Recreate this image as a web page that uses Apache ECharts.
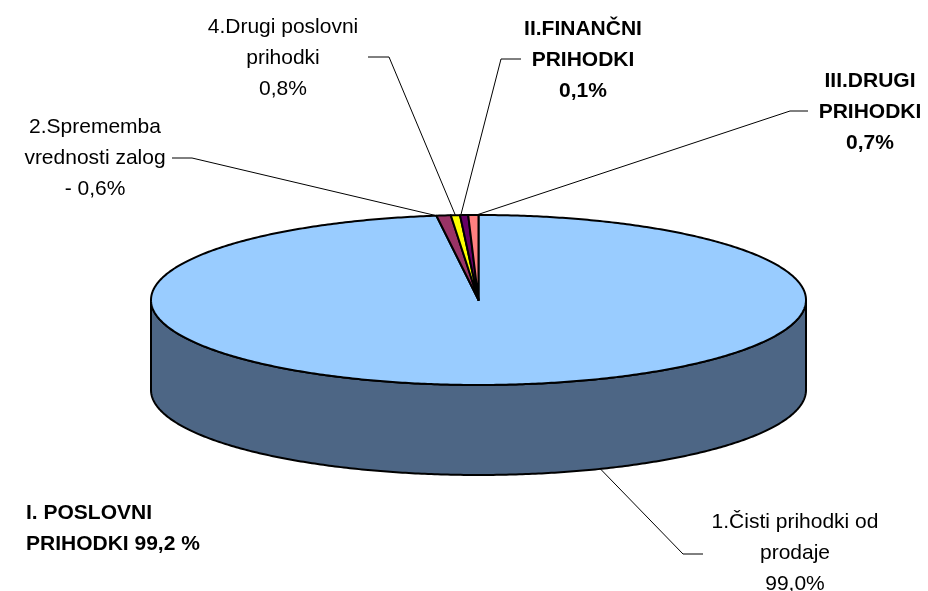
<!DOCTYPE html>
<html>
<head>
<meta charset="utf-8">
<style>html,body{margin:0;padding:0;background:#fff}#c{width:928px;height:591px}</style>
<script src="https://cdn.jsdelivr.net/npm/echarts@6/dist/echarts.min.js"></script>
</head>
<body>
<div id="c"></div>
<script>
// Slices clockwise from 12 o'clock (widths)
const sliceNames = ['1.Čisti prihodki od prodaje', '2.Sprememba vrednosti zalog', '4.Drugi poslovni prihodki', 'II.FINANČNI PRIHODKI', 'III.DRUGI PRIHODKI'];
const sliceValues = [98.0, 0.70, 0.45, 0.40, 0.50];
const sliceColors = ['#99CCFF', '#993366', '#FFFF00', '#660066', '#FF8080'];
const sideColors  = ['#4D6685', '#4D1A33', '#808000', '#330033', '#804040'];
const sliceLabels = [
  '1.Čisti prihodki od\nprodaje\n99,0%',
  '2.Sprememba\nvrednosti zalog\n- 0,6%',
  '4.Drugi poslovni\nprihodki\n0,8%',
  'II.FINANČNI\nPRIHODKI\n0,1%',
  'III.DRUGI\nPRIHODKI\n0,7%'
];
const extraLabel = 'I. POSLOVNI\nPRIHODKI 99,2 %';

// Layout
const cx = 478.5, cy = 300, rx = 327.5, ry = 85, depth = 90;
const total = sliceValues.reduce((a, b) => a + b, 0);
const fontFamily = '"Liberation Sans", Arial, sans-serif';
const fontSize = 21, lineHeight = 31;
// where each label sits, the elbow of its leader, the fraction along the slice's rim it touches
const labelLayout = [
  {x: 795, y: 553, bold: false, elbow: [[703, 554], [683, 554]], at: 0.4485, wall: true},
  {x: 95,  y: 158, bold: false, elbow: [[172, 158], [192, 158]], at: 0},
  {x: 283, y: 58,  bold: false, elbow: [[368, 57],  [389, 57]],  at: 0.5},
  {x: 583, y: 60,  bold: true,  elbow: [[521, 59],  [501, 59]],  at: 0.1},
  {x: 870, y: 112, bold: true,  elbow: [[808, 111], [790, 111]], at: 0.8}
];

function pt(t, dy) {
  return [cx + rx * Math.sin(t), cy - ry * Math.cos(t) + (dy || 0)];
}
function arc(a, b, dy) {
  const n = Math.max(2, Math.ceil((b - a) / 0.01));
  const out = [];
  for (let i = 0; i <= n; i++) out.push(pt(a + (b - a) * i / n, dy));
  return out;
}
function renderSlice(params, api) {
  const i = params.dataIndex;
  let acc = 0;
  for (let k = 0; k < i; k++) acc += sliceValues[k];
  const a = acc / total * 2 * Math.PI;
  const b = (acc + api.value(1)) / total * 2 * Math.PI;
  const children = [];
  const lo = Math.max(a, Math.PI / 2), hi = Math.min(b, Math.PI * 1.5);
  if (hi > lo) {
    const wall = arc(lo, hi, 0).concat(arc(lo, hi, depth).reverse());
    children.push({type: 'polygon', shape: {points: wall},
      style: {fill: sideColors[i], stroke: '#000', lineWidth: 2, lineJoin: 'round'}});
  }
  children.push({type: 'polygon', shape: {points: [[cx, cy]].concat(arc(a, b, 0))},
    style: {fill: sliceColors[i], stroke: '#000', lineWidth: 2, lineJoin: 'round'}});
  return {type: 'group', children};
}
function renderLeader(params, api) {
  const i = params.dataIndex;
  let acc = 0;
  for (let k = 0; k < i; k++) acc += sliceValues[k];
  const L = labelLayout[i];
  const t = (acc + api.value(1) * L.at) / total * 2 * Math.PI;
  const anchor = pt(t, L.wall ? depth : 0);
  return {type: 'group', children: [
    {type: 'polyline', shape: {points: L.elbow.concat([anchor])},
      style: {fill: 'none', stroke: '#000', lineWidth: 1}},
    {type: 'text', style: {x: L.x, y: L.y, text: sliceLabels[i], align: 'center', verticalAlign: 'middle',
      font: (L.bold ? 'bold ' : '') + fontSize + 'px ' + fontFamily, lineHeight, fill: '#000'}}
  ]};
}
const seriesData = sliceValues.map((v, i) => ({name: sliceNames[i], value: [i, v]}));
const chart = echarts.init(document.getElementById('c'), null, {renderer: 'canvas'});
chart.setOption({
  animation: false,
  backgroundColor: '#fff',
  series: [
    {type: 'custom', coordinateSystem: 'none', silent: true, renderItem: renderSlice, data: seriesData, z: 2},
    {type: 'custom', coordinateSystem: 'none', silent: true, renderItem: renderLeader, data: seriesData, z: 3}
  ],
  graphic: [{type: 'text', left: 26, top: 498, z: 5, silent: true,
    style: {text: extraLabel, font: 'bold ' + fontSize + 'px ' + fontFamily, lineHeight, fill: '#000'}}]
});
</script>
</body>
</html>
